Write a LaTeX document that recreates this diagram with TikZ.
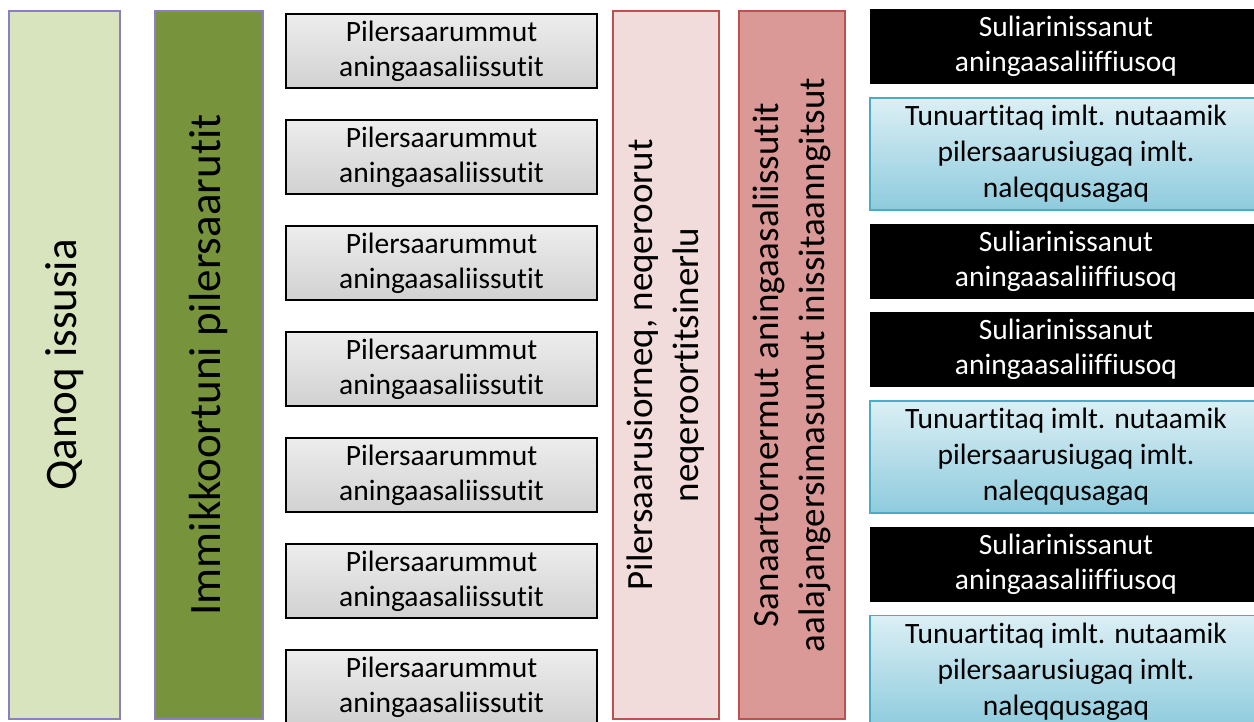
\documentclass[tikz,border=0pt]{standalone}
\usepackage{fontspec}
\setmainfont[Ligatures=NoCommon]{Carlito}
\usetikzlibrary{positioning}
\definecolor{qgreen}{HTML}{D7E4BD}
\definecolor{igreen}{HTML}{77933C}
\definecolor{colline}{HTML}{8C7FC0}
\definecolor{lightrose}{HTML}{F2DCDB}
\definecolor{darkrose}{HTML}{DA9896}
\definecolor{roseline}{HTML}{C0504D}
\definecolor{skytop}{HTML}{DCEFF5}
\definecolor{skybottom}{HTML}{8ECBDD}
\definecolor{skyline}{HTML}{4BACC6}
\tikzset{
column/.style={draw, line width=1.2pt, rotate=90, minimum width=708pt, inner sep=0pt, align=center}, % tall columns, text runs upwards
plan/.style={draw=black, line width=1.6pt, top color=gray!14, bottom color=gray!36, minimum width=311pt, minimum height=74pt, inner sep=0pt, align=center, font=\fontsize{29.5}{35}\selectfont}, % grey boxes
fund/.style={fill=black, text=white, minimum width=392pt, minimum height=75pt, inner sep=0pt, align=center, font=\fontsize{29.5}{35}\selectfont}, % black boxes
pick/.style={draw=skyline, line width=1.2pt, top color=skytop, bottom color=skybottom, minimum width=392pt, minimum height=112pt, inner sep=0pt, align=center, font=\fontsize{29.5}{36}\selectfont}, % blue boxes
}
\begin{document}
\begin{tikzpicture}[x=1pt, y=-1pt, node distance=13pt]
    \useasboundingbox (0,0) rectangle (1254,722);
    \node[column, draw=colline, fill=qgreen, minimum height=111pt, font=\fontsize{45}{54}\selectfont] (qanoq) at (64.5,365) {Qanoq issusia};
    \node[column, draw=colline, fill=igreen, minimum height=108pt, font=\fontsize{45}{54}\selectfont] (immik) at (209,365) {Immikkoortuni pilersaarutit};
    \foreach \i in {0,...,6}
      \node[plan] (plan\i) at (441.5,51+106*\i) {Pilersaarummut\\aningaasaliissutit};
    \node[column, draw=roseline, fill=lightrose, minimum height=106pt, font=\fontsize{37}{46}\selectfont] (neqer) at (666,365) {Pilersaarusiorneq, neqeroorut\\neqeroortitsinerlu};
    \node[column, draw=roseline, fill=darkrose, minimum height=106pt, font=\fontsize{37}{46}\selectfont] (sanaa) at (792,365) {Sanaartornermut aningaasaliissutit\\aalajangersimasumut inissitaanngitsut};
    \node[fund, anchor=north] (r1) at (1066,9) {Suliarinissanut\\aningaasaliiffiusoq};
    \node[pick, below=of r1] (r2) {Tunuartitaq imlt. nutaamik\\pilersaarusiugaq imlt.\\naleqqusagaq};
    \node[fund, below=of r2] (r3) {Suliarinissanut\\aningaasaliiffiusoq};
    \node[fund, below=of r3] (r4) {Suliarinissanut\\aningaasaliiffiusoq};
    \node[pick, below=of r4] (r5) {Tunuartitaq imlt. nutaamik\\pilersaarusiugaq imlt.\\naleqqusagaq};
    \node[fund, below=of r5] (r6) {Suliarinissanut\\aningaasaliiffiusoq};
    \node[pick, below=of r6] (r7) {Tunuartitaq imlt. nutaamik\\pilersaarusiugaq imlt.\\naleqqusagaq};
\end{tikzpicture}
\end{document}
